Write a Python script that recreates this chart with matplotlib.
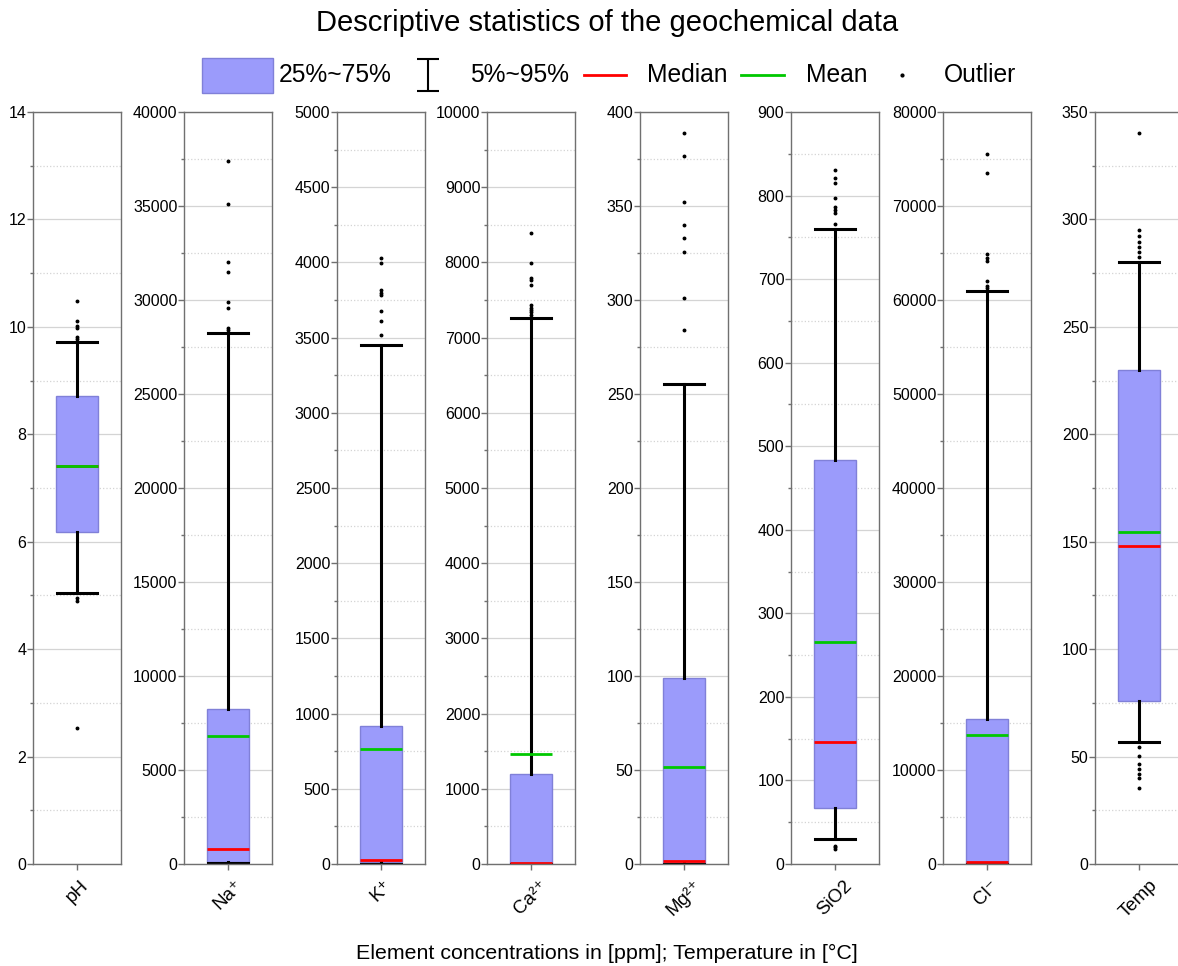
import matplotlib
matplotlib.use("Agg")
import matplotlib.pyplot as plt
from matplotlib.patches import Rectangle
from matplotlib.lines import Line2D
from matplotlib.path import Path
from matplotlib.ticker import MultipleLocator

plt.rcParams['font.family'] = ['Liberation Sans', 'DejaVu Sans']

# ---- data ----
names = ['pH', 'Na⁺', 'K⁺', 'Ca²⁺', 'Mg²⁺', 'SiO2', 'Cl⁻', 'Temp']
q1 = [6.19, 120, 10, 5, 0.3, 66.7, 50, 75.7]
q3 = [8.71, 8230, 917, 1193, 98.9, 483.5, 15460, 229.9]
med = [7.41, 800, 29, 10, 1.5, 146, 250, 148.1]
mean = [7.41, 6810, 767, 1463, 51.6, 265.7, 13720, 154.5]
p5 = [5.05, 50, 2, 0, 0.2, 30, 20, 56.8]
p95 = [9.71, 28230, 3451, 7256, 255.2, 759.6, 60920, 280]
outliers = [
    [10.48, 10.11, 10.02, 9.98, 9.82, 9.78, 4.95, 4.90, 2.53],
    [37400, 35100, 32000, 31500, 29900, 29600, 28500, 28400],
    [4031, 3998, 3816, 3794, 3780, 3679, 3610, 3517],
    [8395, 7987, 7789, 7760, 7700, 7434, 7400, 7370, 7340, 7300],
    [388.8, 376.4, 352.3, 340, 332.8, 325.5, 300.9, 284.2],
    [830, 821, 814.6, 797, 786, 782.7, 779.5, 766, 22, 20, 18],
    [75500, 73500, 64900, 64500, 64200, 62000, 61500, 61300],
    [340, 295, 292.3, 289.6, 287.3, 285, 282.7, 54.6, 50.4, 46.4, 44, 41.9, 39.9, 35.2],
]
ymax = [14, 40000, 5000, 10000, 400, 900, 80000, 350]
ystep = [2, 5000, 500, 1000, 50, 100, 10000, 50]

box_face = '#9b9bfb'
box_edge = '#8080d8'
med_col = '#ff0000'
mean_col = '#00c800'

W, H = 1178, 966
fig = plt.figure(figsize=(W / 100, H / 100), dpi=100)

lefts = [33, 184, 337, 487, 640, 791, 943, 1095]
aw = 88
bottom_px = 864
top_px = 112

for i, name in enumerate(names):
    ax = fig.add_axes([lefts[i] / W, (H - bottom_px) / H, aw / W, (bottom_px - top_px) / H])
    stats = [dict(med=med[i], q1=q1[i], q3=q3[i], whislo=p5[i], whishi=p95[i],
                  mean=mean[i], fliers=outliers[i], label=name)]
    ax.bxp(stats, positions=[1], widths=0.48, showmeans=True, meanline=True,
           patch_artist=True, capwidths=0.45,
           boxprops=dict(facecolor=box_face, edgecolor=box_edge, linewidth=1),
           medianprops=dict(color=med_col, linewidth=2),
           meanprops=dict(color=mean_col, linewidth=2, linestyle='-'),
           whiskerprops=dict(color='black', linewidth=2.2),
           capprops=dict(color='black', linewidth=2.2),
           flierprops=dict(marker='o', markersize=1.8, markerfacecolor='black',
                           markeredgecolor='black', linestyle='none'))
    ax.set_xlim(0.5, 1.5)
    ax.set_ylim(0, ymax[i])
    ax.yaxis.set_major_locator(MultipleLocator(ystep[i]))
    ax.yaxis.set_minor_locator(MultipleLocator(ystep[i] / 2))
    ax.grid(True, which='major', axis='y', color='#d4d4d4', linewidth=0.9)
    ax.grid(True, which='minor', axis='y', color='#d4d4d4', linewidth=0.9, linestyle=':')
    ax.set_axisbelow(True)
    for s in ax.spines.values():
        s.set_color('#707070')
        s.set_linewidth(1.0)
    ax.tick_params(axis='y', which='major', direction='out', length=4.3, width=1,
                   color='#707070', labelsize=11.5, pad=0.5)
    ax.tick_params(axis='y', which='minor', direction='out', length=2.5, width=1, color='#707070')
    ax.tick_params(axis='x', which='major', direction='out', length=4.3, width=1,
                   color='#707070', labelsize=13.5, pad=5)
    ax.set_xticks([1])
    ax.set_xticklabels([name], rotation=45, ha='center', va='top')

fig.text(0.515, 0.976, 'Descriptive statistics of the geochemical data',
         ha='center', va='center', fontsize=21)
fig.text(0.515, 0.003, 'Element concentrations in [ppm]; Temperature in [°C]',
         ha='center', va='bottom', fontsize=15.4)

# ---- legend row ----
lax = fig.add_axes([0, 0.887, 1, 0.07])
lax.set_xlim(0, W)
lax.set_ylim(0, 1)
lax.axis('off')
lfs = 17.7
lax.add_patch(Rectangle((202, 0.24), 71, 0.52, facecolor=box_face, edgecolor=box_edge, lw=1))
lax.text(279, 0.5, '25%~75%', va='center', ha='left', fontsize=lfs)
ipath = Path([(0, -1), (0, 1), (-0.68, 1), (0.68, 1), (-0.68, -1), (0.68, -1)],
             [Path.MOVETO, Path.LINETO, Path.MOVETO, Path.LINETO, Path.MOVETO, Path.LINETO])
lax.add_line(Line2D([428], [0.5], marker=ipath, markersize=23, markeredgewidth=1.5,
                    color='black', linestyle='none'))
lax.text(470, 0.5, '5%~95%', va='center', ha='left', fontsize=lfs)
lax.add_line(Line2D([584, 626], [0.5, 0.5], color=med_col, lw=2))
lax.text(647, 0.5, 'Median', va='center', ha='left', fontsize=lfs)
lax.add_line(Line2D([741, 784], [0.5, 0.5], color=mean_col, lw=2))
lax.text(806, 0.5, 'Mean', va='center', ha='left', fontsize=lfs)
lax.add_line(Line2D([902], [0.5], marker='o', markersize=2, color='black', linestyle='none'))
lax.text(944, 0.5, 'Outlier', va='center', ha='left', fontsize=lfs)

fig.savefig('out.png', dpi=100)
